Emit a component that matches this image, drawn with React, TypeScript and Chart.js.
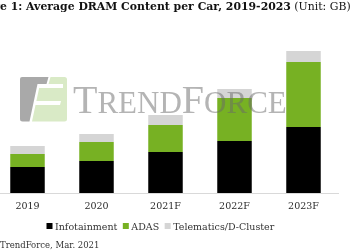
import { useEffect, useRef } from "react";
import { Chart, registerables } from "chart.js";

Chart.register(...registerables);

// Average DRAM content per car (GB), stacked by application
const categories = ["2019", "2020", "2021F", "2022F", "2023F"];
const infotainment = [2.6, 3.2, 4.1, 5.2, 6.6];
const adas = [1.3, 1.9, 2.7, 4.3, 6.5];
const telematics = [0.8, 0.8, 1.0, 0.9, 1.1];
const seriesNames = ["Infotainment", "ADAS", "Telematics/D-Cluster"];
const seriesColors = ["#000000", "#77b123", "#d5d5d5"];

const titleBold = "Figure 1: Average DRAM Content per Car, 2019-2023";
const titleUnit = " (Unit: GB)";
const sourceText = "TrendForce, Mar. 2021";
const watermarkParts: [string, number][] = [
  ["T", 40],
  ["REND", 31],
  ["F", 40],
  ["ORCE", 31],
];

const SHIFT = 7; // canvas sits 7px left of the page edge
const CANVAS_W = 366;
const CANVAS_H = 250;
const SERIF = "'DejaVu Serif', serif";

function drawLogo(ctx: CanvasRenderingContext2D) {
  // gray "T"
  ctx.fillStyle = "rgba(140,140,140,0.75)";
  ctx.beginPath();
  ctx.moveTo(22, 77);
  ctx.lineTo(48.5, 77);
  ctx.lineTo(46.5, 84);
  ctx.lineTo(37.5, 84);
  ctx.lineTo(29.5, 121.5);
  ctx.lineTo(22.5, 121.5);
  ctx.quadraticCurveTo(20, 121.5, 20, 119);
  ctx.lineTo(20, 79);
  ctx.quadraticCurveTo(20, 77, 22, 77);
  ctx.closePath();
  ctx.fill();

  // light green "F" block
  ctx.fillStyle = "#d9eac6";
  ctx.beginPath();
  ctx.moveTo(50.5, 77);
  ctx.lineTo(64.5, 77);
  ctx.quadraticCurveTo(67, 77, 67, 79.5);
  ctx.lineTo(67, 119);
  ctx.quadraticCurveTo(67, 121.5, 64.5, 121.5);
  ctx.lineTo(32, 121.5);
  ctx.lineTo(40, 84);
  ctx.lineTo(48.5, 84);
  ctx.closePath();
  ctx.fill();

  // white cuts that shape the F
  ctx.fillStyle = "#ffffff";
  ctx.beginPath();
  ctx.moveTo(39, 84);
  ctx.lineTo(63, 84);
  ctx.lineTo(63, 88);
  ctx.lineTo(38, 88);
  ctx.closePath();
  ctx.fill();
  ctx.beginPath();
  ctx.moveTo(35.5, 101);
  ctx.lineTo(61, 101);
  ctx.lineTo(60, 105);
  ctx.lineTo(34.5, 105);
  ctx.closePath();
  ctx.fill();
}

const overlayPlugin = {
  id: "overlay",
  afterDraw(chart: Chart) {
    const ctx = chart.ctx;
    ctx.save();
    ctx.translate(SHIFT, 0);

    // title: sized so the visible part spans the page width
    ctx.textBaseline = "alphabetic";
    ctx.textAlign = "left";
    ctx.fillStyle = "#111111";
    ctx.font = `bold 11px ${SERIF}`;
    const lead11 = ctx.measureText("Figur").width;
    const bold11 = ctx.measureText(titleBold).width;
    ctx.font = `11px ${SERIF}`;
    const unit11 = ctx.measureText(titleUnit).width;
    const size = (11 * 351) / (bold11 - lead11 + unit11);
    ctx.font = `bold ${size}px ${SERIF}`;
    const lead = ctx.measureText("Figur").width;
    const boldW = ctx.measureText(titleBold).width;
    const tx = -lead;
    ctx.fillText(titleBold, tx, 10);
    ctx.font = `${size}px ${SERIF}`;
    ctx.fillText(titleUnit, tx + boldW, 10);

    // watermark
    drawLogo(ctx);
    ctx.fillStyle = "rgba(105,105,105,0.5)";
    let wx = 73;
    for (const [txt, fs] of watermarkParts) {
      ctx.font = `${fs}px 'Liberation Serif', serif`;
      ctx.fillText(txt, wx, 113);
      wx += ctx.measureText(txt).width;
    }

    // legend
    ctx.font = `9.5px ${SERIF}`;
    let lx = 46.5;
    chart.data.datasets.forEach((ds) => {
      ctx.fillStyle = ds.backgroundColor as string;
      ctx.fillRect(lx, 223, 6, 6);
      lx += 8.5;
      ctx.fillStyle = "#333333";
      const label = ds.label as string;
      ctx.fillText(label, lx, 229.5);
      lx += ctx.measureText(label).width + 5.5;
    });

    // source line
    ctx.fillStyle = "#333333";
    ctx.font = `8.5px ${SERIF}`;
    ctx.fillText(sourceText, 0, 247.5);

    ctx.restore();
  },
};

export default function App() {
  const canvasRef = useRef<HTMLCanvasElement | null>(null);

  useEffect(() => {
    if (!canvasRef.current) return;
    const seriesData = [infotainment, adas, telematics];
    const chart = new Chart(canvasRef.current, {
      type: "bar",
      data: {
        labels: categories,
        datasets: seriesNames.map((name, i) => ({
          label: name,
          data: seriesData[i],
          backgroundColor: seriesColors[i],
          borderWidth: 0,
          barPercentage: 0.5,
          categoryPercentage: 1,
        })),
      },
      options: {
        animation: false,
        responsive: false,
        layout: { padding: { left: 0, right: 21, top: 0, bottom: 0 } },
        plugins: {
          legend: { display: false },
          title: { display: false },
          tooltip: { enabled: false },
        },
        scales: {
          x: {
            stacked: true,
            grid: { display: true, drawOnChartArea: false, drawTicks: false },
            border: { display: true, color: "#d9d9d9", width: 1 },
            ticks: {
              color: "#2a2a2a",
              padding: 8,
              font: { family: "'DejaVu Serif', serif", size: 9.5 },
            },
            afterFit: (scale: any) => {
              scale.height = 57;
            },
          },
          y: {
            stacked: true,
            display: false,
            min: 0,
            max: 19.3,
          },
        },
      },
      plugins: [overlayPlugin],
    });
    return () => chart.destroy();
  }, []);

  return (
    <div
      style={{
        position: "fixed",
        left: -SHIFT,
        top: 0,
        width: CANVAS_W,
        height: CANVAS_H,
        background: "#ffffff",
      }}
    >
      <canvas ref={canvasRef} width={CANVAS_W} height={CANVAS_H} />
    </div>
  );
}
